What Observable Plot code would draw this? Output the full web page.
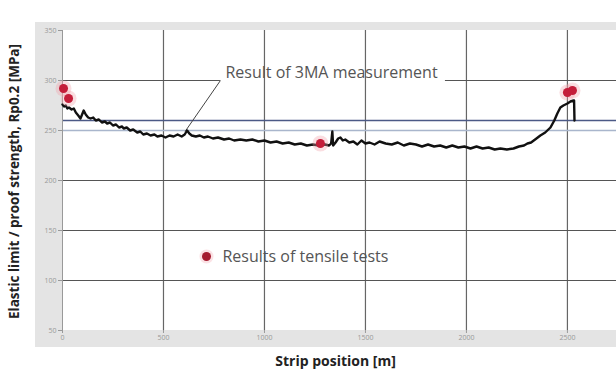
<!DOCTYPE html>
<html>
<head>
<meta charset="utf-8">
<script src="https://cdn.jsdelivr.net/npm/d3@7"></script>
<script src="https://cdn.jsdelivr.net/npm/@observablehq/plot@0.6"></script>
<style>
  html, body { margin: 0; padding: 0; background: #fff; }
  svg { display: block; font-family: "Open Sans", sans-serif; }
</style>
</head>
<body>
<div id="chart"></div>
<script>
// ---- data ----
const stripPos = [0,8,16,24,32,45,56,66,78,89,97,105,115,127,139,152,165,180,195,210,221,235,250,265,280,295,303,318,335,350,370,385,400,418,436,455,470,490,510,530,550,570,590,605,617,628,640,660,680,700,720,745,770,800,825,850,881,910,940,970,1000,1030,1060,1090,1120,1150,1180,1210,1240,1270,1300,1320,1330,1336,1340,1352,1365,1376,1388,1400,1420,1440,1460,1480,1500,1520,1545,1570,1600,1630,1660,1690,1720,1750,1780,1810,1840,1870,1900,1930,1960,1990,2020,2050,2080,2110,2140,2168,2200,2233,2260,2285,2302,2320,2340,2366,2390,2416,2435,2450,2465,2480,2500,2515,2530,2533,2535];
const measured3MA = [276,274,275,272,273,271,272,268,265,262,266,270,266,263,262,263,260,261,258,259,257,258,255,256,253,254,252,253,250,251,248,249,246,247,245,246,244,245,243,245,244,246,244,246,250,247,245,244,245,243,244,242,243,241,242,240,241,240,241,239,240,238,239,237,238,236,237,235,236,235,236,235,237,249,235,238,242,243,240,241,238,239,236,240,237,238,236,239,237,236,238,235,237,236,234,236,234,235,233,235,233,234,232,234,232,233,231,232,231,232,234,235,237,238,241,245,248,253,260,267,273,275,277,279,280,280,260];
const tensilePos = [5, 30, 1277, 2500, 2525];
const tensileVal = [292, 282, 237, 288, 290];
const xTicks = [0, 500, 1000, 1500, 2000, 2500];
const yTicks = [50, 100, 150, 200, 250, 300, 350];
const limitLine = [260];
const labels = {
  y: "Elastic limit / proof strength, Rp0.2 [MPa]",
  x: "Strip position [m]",
  annot: "Result of 3MA measurement",
  legend: "Results of tensile tests"
};
// annotation anchors (data coords)
const annotText = [{x: 1332, y: 308}];
const annotLeader = [{x1: 782, y1: 300, x2: 607, y2: 249}];
const grid300Segments = [{x1: 0, x2: 782}, {x1: 1896, x2: 2743}];
const legendDot = [{x: 713, y: 124}];
const legendLabel = [{x: 792, y: 124}];

const line = stripPos.map((x, i) => ({x, y: measured3MA[i]}));
const tensile = tensilePos.map((x, i) => ({x, y: tensileVal[i]}));

// background bands (decorative frame)
function bands(index, scales, values, dims) {
  const g = d3.create("svg:g");
  const c = "#e4e4e4";
  const L = dims.marginLeft, T = dims.marginTop, W = dims.width, H = dims.height - dims.marginBottom;
  g.append("rect").attr("x", 35).attr("y", 22).attr("width", W - 35).attr("height", T - 22).attr("fill", c);
  g.append("rect").attr("x", 35).attr("y", 22).attr("width", L - 35).attr("height", H + 17 - 22).attr("fill", c);
  g.append("rect").attr("x", 35).attr("y", H).attr("width", W - 35).attr("height", 17).attr("fill", c);
  return g.node();
}

const chart = Plot.plot({
  width: 616,
  height: 376,
  marginLeft: 62,
  marginRight: 0,
  marginTop: 30,
  marginBottom: 46,
  style: {fontFamily: "'Open Sans', sans-serif", background: "#fff"},
  x: {domain: [0, 2743]},
  y: {domain: [50, 350]},
  marks: [
    bands,
    Plot.ruleX(xTicks.slice(1), {stroke: "#666", strokeWidth: 1.2}),
    Plot.ruleY([100, 150, 200], {stroke: "#555", strokeWidth: 1.2}),
    Plot.ruleY(grid300Segments, {y: 300, x1: "x1", x2: "x2", stroke: "#555", strokeWidth: 1.2}),
    Plot.ruleY([250], {stroke: "#a9b6cc", strokeWidth: 1.4}),
    Plot.ruleY(limitLine, {stroke: "#4c5a86", strokeWidth: 1.4}),
    Plot.ruleX([0], {stroke: "#999", strokeWidth: 1}),
    Plot.axisX({ticks: xTicks, tickSize: 3, tickPadding: 2, stroke: "#999", fill: "#999", fontSize: 7, tickFormat: d => String(d)}),
    Plot.axisY({ticks: yTicks, tickSize: 4, tickPadding: 2, stroke: "#999", fill: "#999", fontSize: 7, tickFormat: d => String(d)}),
    Plot.link(annotLeader, {x1: "x1", y1: "y1", x2: "x2", y2: "y2", stroke: "#444", strokeWidth: 1}),
    Plot.text(annotText, {x: "x", y: "y", text: () => labels.annot, fontSize: 16, fill: "#555", textAnchor: "middle"}),
    Plot.line(line, {x: "x", y: "y", stroke: "#111", strokeWidth: 2.4, strokeLinejoin: "round"}),
    Plot.dot(tensile, {x: "x", y: "y", r: 8, fill: "#f2a0aa", fillOpacity: 0.35}),
    Plot.dot(tensile, {x: "x", y: "y", r: 4.5, fill: "#c41e3a"}),
    Plot.dot(legendDot, {x: "x", y: "y", r: 7, fill: "#f2a0aa", fillOpacity: 0.3}),
    Plot.dot(legendDot, {x: "x", y: "y", r: 4.5, fill: "#a51c30"}),
    Plot.text(legendLabel, {x: "x", y: "y", text: () => labels.legend, fontSize: 16, fill: "#555", textAnchor: "start"}),
    Plot.text([labels.y], {frameAnchor: "left", textAnchor: "middle", dx: -48, dy: 1, rotate: -90, fontSize: 13.5, fontWeight: "bold", fill: "#222"}),
    Plot.text([labels.x], {frameAnchor: "bottom", textAnchor: "middle", dy: 35, dx: -4, fontSize: 14, fontWeight: "bold", fill: "#222"})
  ]
});
document.getElementById("chart").appendChild(chart);
</script>
</body>
</html>
